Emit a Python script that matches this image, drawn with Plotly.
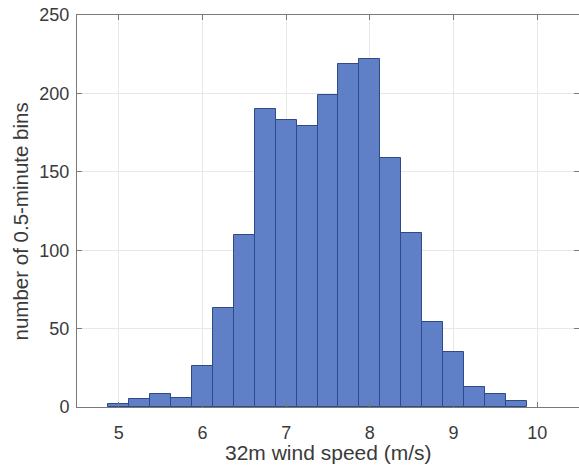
import plotly.graph_objects as go

# Histogram of 32 m wind speed, counts per 0.25 m/s bin
bin_centers = [5.0, 5.25, 5.5, 5.75, 6.0, 6.25, 6.5, 6.75, 7.0, 7.25,
               7.5, 7.75, 8.0, 8.25, 8.5, 8.75, 9.0, 9.25, 9.5, 9.75]
counts = [2, 5, 8, 6, 26, 63, 110, 190, 183, 179,
          199, 219, 222, 159, 111, 54, 35, 13, 8, 4]
bin_width = 0.25

x_ticks = [5, 6, 7, 8, 9, 10]
y_ticks = [0, 50, 100, 150, 200, 250]

FONT = "Liberation Sans, Arial, sans-serif"
TEXT_COLOR = "#3a3a3a"

fig = go.Figure(
    go.Bar(
        x=bin_centers,
        y=counts,
        width=[bin_width] * len(bin_centers),
        marker=dict(color="#5f80c6", line=dict(color="#2f4a86", width=1)),
    )
)

axis_common = dict(
    showline=True,
    linecolor="#7a7a7a",
    linewidth=1,
    mirror="ticks",
    ticks="inside",
    ticklen=5,
    tickcolor="#7a7a7a",
    showgrid=True,
    gridcolor="#e8e8e8",
    gridwidth=1,
    zeroline=False,
    tickfont=dict(family=FONT, size=18, color=TEXT_COLOR),
)

fig.update_xaxes(range=[4.5, 10.5], tickvals=x_ticks, ticklabelstandoff=9, **axis_common)
fig.update_yaxes(range=[0, 250], tickvals=y_ticks, ticklabelstandoff=3, **axis_common)

# Axis titles placed as annotations (paper coordinates relative to the plot area)
fig.add_annotation(
    text="32m wind speed (m/s)",
    xref="paper", yref="paper", x=0.5, y=-0.115,
    xanchor="center", yanchor="middle", showarrow=False,
    font=dict(family=FONT, size=21, color=TEXT_COLOR),
)
fig.add_annotation(
    text="number of 0.5-minute bins",
    xref="paper", yref="paper", x=-0.113, y=0.474,
    xanchor="center", yanchor="middle", textangle=-90, showarrow=False,
    font=dict(family=FONT, size=20.5, color=TEXT_COLOR),
)

fig.update_layout(
    width=579,
    height=469,
    margin=dict(l=77, r=0, t=15, b=62),
    plot_bgcolor="white",
    paper_bgcolor="white",
    showlegend=False,
    bargap=0,
)

fig.write_html("out.html")
